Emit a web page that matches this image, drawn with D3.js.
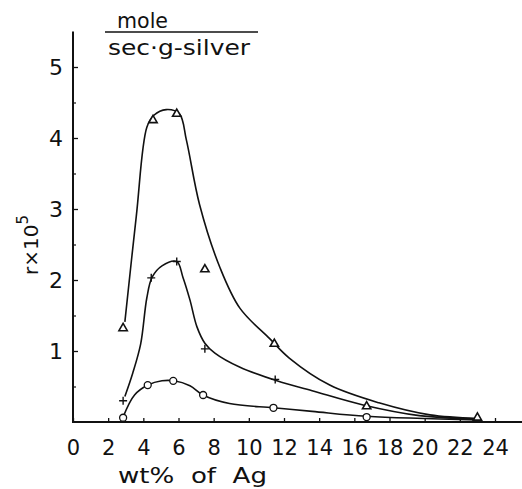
<!DOCTYPE html>
<html>
<head>
<meta charset="utf-8">
<script src="https://cdn.jsdelivr.net/npm/d3@7"></script>
<style>
  body { margin: 0; background: #fff; }
  svg text { font-family: "DejaVu Sans", sans-serif; fill: #111; }
</style>
</head>
<body>
<svg id="chart" width="522" height="489"></svg>
<script>
// rate r x 10^5 (mole / sec.g-silver) against wt% of Ag, three series

const xTicks = [0, 2, 4, 6, 8, 10, 12, 14, 16, 18, 20, 22, 24];
const yTicks = [1, 2, 3, 4, 5];
const yMinor = [0.5, 1.5, 2.5, 3.5, 4.5];

// measured points
const trianglePts = [[2.85, 1.32], [4.55, 4.25], [5.9, 4.34], [7.5, 2.15], [11.45, 1.1], [16.7, 0.22], [23.0, 0.06]];
const plusPts = [[2.85, 0.3], [4.45, 2.03], [5.9, 2.26], [7.5, 1.03], [11.5, 0.6]];
const circlePts = [[2.85, 0.06], [4.25, 0.52], [5.7, 0.58], [7.4, 0.38], [11.4, 0.2], [16.7, 0.07]];

// hand drawn curves
const triangleCurve = [[2.95, 1.41], [3.6, 2.9], [4.2, 4.15], [4.6, 4.32], [5.3, 4.4], [6.05, 4.34], [6.45, 3.97],
  [7.2, 3.06], [8.35, 2.18], [9.5, 1.6], [11.2, 1.17], [12.3, 0.9], [14.6, 0.52], [17.4, 0.27], [20.3, 0.1], [23.0, 0.05]];
const plusCurve = [[2.95, 0.36], [3.4, 0.69], [3.85, 1.1], [4.2, 1.75], [4.5, 2.04], [5.06, 2.2], [5.9, 2.26],
  [6.25, 2.04], [6.65, 1.72], [7.05, 1.34], [7.5, 1.11], [8.07, 0.97], [9.5, 0.77], [11.6, 0.58], [13.6, 0.44],
  [16.5, 0.24], [19.7, 0.09], [23.0, 0.04]];
const circleCurve = [[2.85, 0.07], [3.5, 0.38], [4.26, 0.52], [5.06, 0.58], [5.74, 0.58], [6.65, 0.51], [7.39, 0.38],
  [8.9, 0.26], [11.4, 0.2], [13.6, 0.15], [16.7, 0.08], [23.0, 0.03]];

const svg = d3.select("#chart");
const x = d3.scaleLinear().domain([0, 24]).range([73, 495]);
const y = d3.scaleLinear().domain([0, 5]).range([422, 67]);

// axis lines
svg.append("line")
    .attr("x1", x(0)).attr("x2", 522)
    .attr("y1", y(0)).attr("y2", y(0))
    .attr("stroke", "#111").attr("stroke-width", 2);
svg.append("line")
    .attr("x1", x(0)).attr("x2", x(0))
    .attr("y1", y(0) + 1).attr("y2", y(5.5))
    .attr("stroke", "#111").attr("stroke-width", 2);

const gx = svg.append("g")
    .attr("transform", "translate(0," + y(0) + ")")
    .call(d3.axisBottom(x).tickValues(xTicks).tickSize(-4).tickPadding(18).tickFormat(d3.format("d")));
gx.select(".domain").remove();
gx.selectAll("text").attr("font-size", 21);
gx.selectAll("line").attr("stroke", "#111").attr("stroke-width", 1.3);

const gy = svg.append("g")
    .attr("transform", "translate(" + x(0) + ",0)")
    .call(d3.axisLeft(y).tickValues(yTicks).tickSize(-5).tickPadding(10).tickFormat(d3.format("d")));
gy.select(".domain").remove();
gy.selectAll("text").attr("font-size", 22);
gy.selectAll("line").attr("stroke", "#111").attr("stroke-width", 1.3);

const gyMinor = svg.append("g")
    .attr("transform", "translate(" + x(0) + ",0)")
    .call(d3.axisLeft(y).tickValues(yMinor).tickSize(-3).tickFormat(""));
gyMinor.select(".domain").remove();
gyMinor.selectAll("line").attr("stroke", "#111").attr("stroke-width", 1.2);

// curves
const line = d3.line()
    .x(function(d) { return x(d[0]); })
    .y(function(d) { return y(d[1]); })
    .curve(d3.curveCatmullRom.alpha(0.5));

[triangleCurve, plusCurve, circleCurve].forEach(function(c) {
  svg.append("path")
      .datum(c)
      .attr("d", line)
      .attr("fill", "none")
      .attr("stroke", "#111")
      .attr("stroke-width", 1.6);
});

// markers
svg.selectAll(".tri")
  .data(trianglePts)
  .enter().append("path")
    .attr("class", "tri")
    .attr("transform", function(d) { return "translate(" + x(d[0]) + "," + y(d[1]) + ")"; })
    .attr("d", d3.symbol(d3.symbolTriangle, 30))
    .attr("fill", "#fff").attr("stroke", "#111").attr("stroke-width", 1.6);

svg.selectAll(".plus")
  .data(plusPts)
  .enter().append("path")
    .attr("class", "plus")
    .attr("transform", function(d) { return "translate(" + x(d[0]) + "," + y(d[1]) + ")"; })
    .attr("d", "M-4,0H4M0,-4V4")
    .attr("fill", "none").attr("stroke", "#111").attr("stroke-width", 1.4);

svg.selectAll(".circ")
  .data(circlePts)
  .enter().append("circle")
    .attr("class", "circ")
    .attr("cx", function(d) { return x(d[0]); })
    .attr("cy", function(d) { return y(d[1]); })
    .attr("r", 3.5)
    .attr("fill", "#fff").attr("stroke", "#111").attr("stroke-width", 1.3);

// unit label at top
svg.append("text")
    .attr("x", 117).attr("y", 28)
    .attr("font-size", 21)
    .attr("textLength", 51)
    .attr("lengthAdjust", "spacingAndGlyphs")
    .text("mole");
svg.append("line")
    .attr("x1", 105).attr("x2", 258)
    .attr("y1", 32).attr("y2", 32)
    .attr("stroke", "#111").attr("stroke-width", 1.6);
svg.append("text")
    .attr("x", 108).attr("y", 55)
    .attr("font-size", 21)
    .attr("textLength", 142)
    .attr("lengthAdjust", "spacingAndGlyphs")
    .text("sec·g-silver");

// y axis label
const yl = svg.append("text")
    .attr("transform", "translate(38,245)rotate(-90)")
    .attr("text-anchor", "middle")
    .attr("font-size", 20);
yl.append("tspan").text("r×10");
yl.append("tspan").attr("dy", -10).attr("font-size", 15).text("5");

// x axis label
svg.append("text")
    .attr("x", 118).attr("y", 483)
    .attr("font-size", 22)
    .attr("textLength", 149)
    .attr("lengthAdjust", "spacingAndGlyphs")
    .style("white-space", "pre")
    .text("wt%  of  Ag");
</script>
</body>
</html>
